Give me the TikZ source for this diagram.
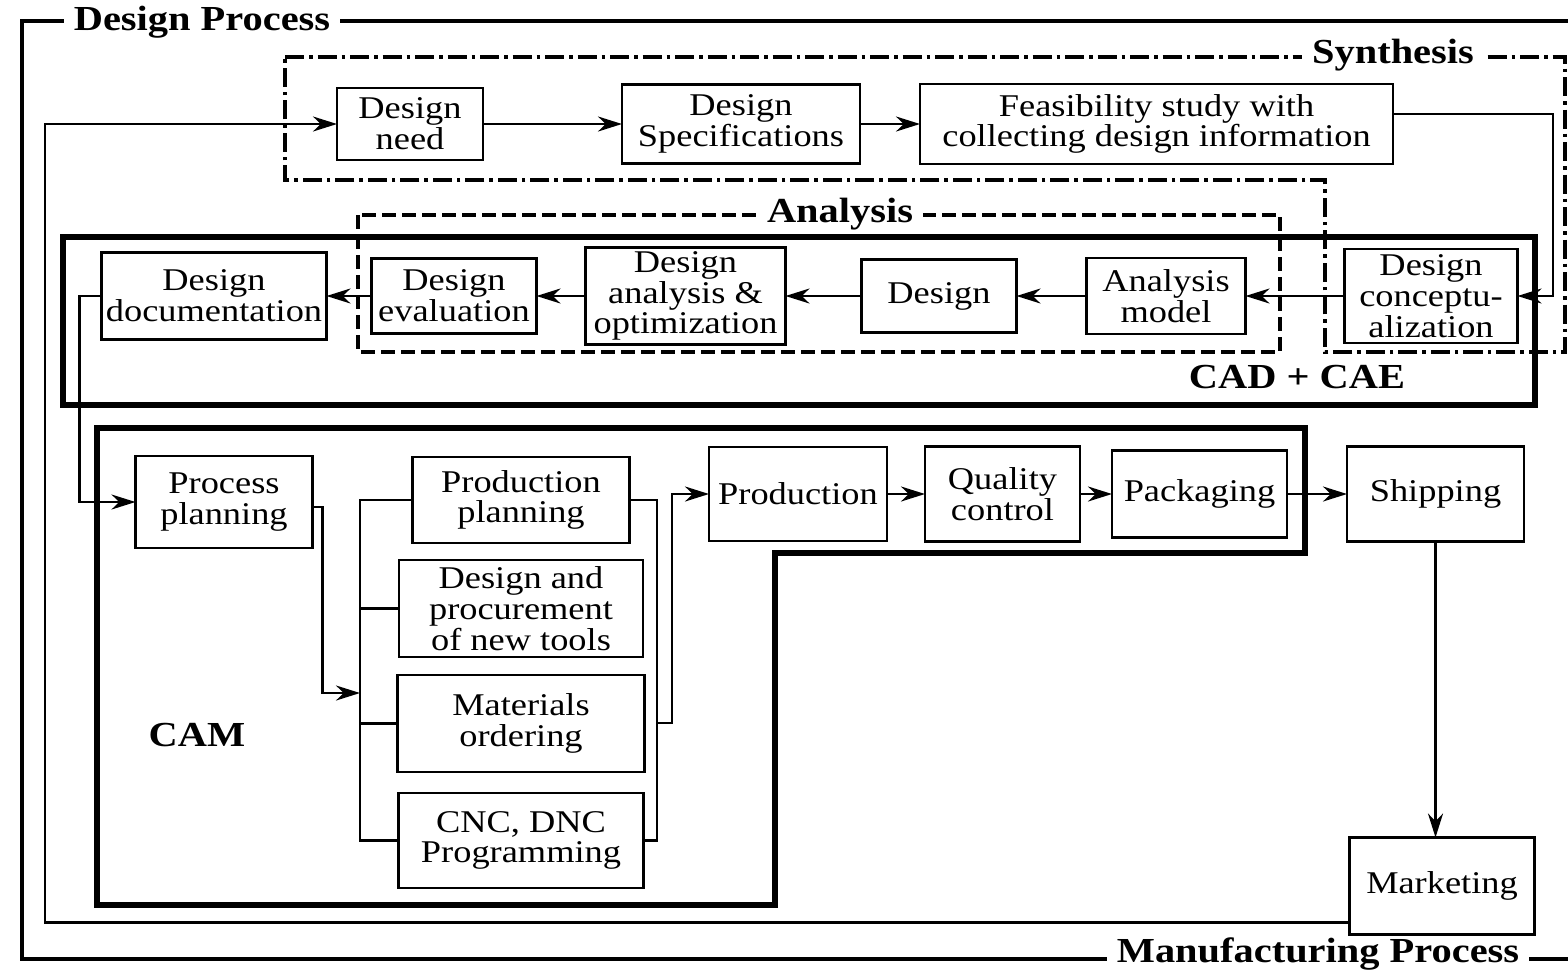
\documentclass[tikz,border=0pt]{standalone}
\usepackage{fontspec}
\setmainfont{Liberation Serif}[FakeStretch=1.15]
\usetikzlibrary{arrows.meta,positioning}

\begin{document}
\begin{tikzpicture}[x=0.2mm,y=-0.2mm,
		every node/.style={font=\fontsize{18}{17.5}\selectfont},
		blk/.style 2 args={draw, fill=white, line width=1.4pt, align=center, inner sep=1pt, outer sep=0pt,
			minimum width=#1*0.2mm, minimum height=#2*0.2mm},
		tag/.style={font=\fontsize{20}{22}\selectfont\bfseries},
		lbl/.style={tag, fill=white, inner xsep=2mm, inner ysep=0pt},
		arr/.style={-{Stealth[length=4.8mm,width=3mm]}, line width=1.5pt},
		link/.style={line width=1.5pt},
		synth/.style={line width=2pt, dash pattern=on 3.8mm off 1mm on 0.7mm off 1mm},
		anl/.style={line width=2pt, dash pattern=on 2.8mm off 1.2mm},
		heavy/.style={line width=3pt}]
	\useasboundingbox (0,0) rectangle (1568,972);

	% frames
	\draw[line width=1.9pt] (1568,21) -- (22,21) -- (22,959) -- (1568,959);
	\draw[synth] (285,57) -- (1565,57) -- (1565,352) -- (1325,352) -- (1325,180) -- (285,180) -- cycle;
	\draw[anl] (358,215) rectangle (1280,352);
	\draw[heavy] (63,237) rectangle (1535,405);
	\draw[heavy] (97,428) -- (1305,428) -- (1305,553) -- (775,553) -- (775,905) -- (97,905) -- cycle;
	\node[lbl] (dproc) at (202,22) {Design Process};
	\node[lbl] (mproc) at (1318,954) {Manufacturing Process};
	\node[lbl] (synlbl) at (1393,55) {Synthesis};
	\node[lbl] (analbl) at (840,214) {Analysis};
	\node[tag] (cadlbl) at (1297,377) {CAD + CAE};
	\node[tag] (camlbl) at (197,735) {CAM};

	% synthesis row
	\node[blk={146}{72}] (dneed) at (410,124) {Design\\need};
	\node[blk={238}{79}, right=27.8mm of dneed] (dspec) {Design\\Specifications};
	\node[blk={473}{80}, right=12mm of dspec] (feas) {Feasibility study with\\collecting design information};

	% CAD row
	\node[blk={173}{94}] (concept) at (1431,296) {Design\\conceptu-\\alization};
	\node[blk={159}{76}, left=19.8mm of concept] (amodel) {Analysis\\model};
	\node[blk={155}{73}, left=14mm of amodel] (design) {Design};
	\node[blk={200}{97}, left=15.2mm of design] (anopt) {Design\\analysis \&\\optimization};
	\node[blk={165}{75}, left=9.8mm of anopt] (deval) {Design\\evaluation};
	\node[blk={225}{87}, left=9mm of deval] (ddoc) {Design\\documentation};

	% CAM
	\node[blk={177}{92}] (pplan) at (224,502) {Process\\planning};
	\node[blk={217}{86}] (pprod) at (521,500) {Production\\planning};
	\node[blk={244}{97}, below=3.4mm of pprod] (tools) {Design and\\procurement\\of new tools};
	\node[blk={247}{97}, below=3.6mm of tools] (mat) {Materials\\ordering};
	\node[blk={245}{95}, below=4.2mm of mat] (cnc) {CNC, DNC\\Programming};
	\node[blk={178}{94}] (prod) at (798,494) {Production};
	\node[blk={155}{95}, right=7.6mm of prod] (qc) {Quality\\control};
	\node[blk={175}{87}, right=6.4mm of qc] (pack) {Packaging};
	\node[blk={177}{95}, right=12mm of pack] (ship) {Shipping};
	\node[blk={185}{97}] (mkt) at (1442,886) {Marketing};

	\coordinate (busin) at (360,693);
	\coordinate (busl) at (360,500);
	\coordinate (busr) at (657,500);
	\coordinate (merge) at (657,723);
	\coordinate (fbturn) at (45,124);

	% connectors
	\draw[arr] (dneed) -- (dspec);
	\draw[arr] (dspec) -- (feas);
	\draw[arr] ([yshift=2mm]feas.east) -- ++(160,0) |- (concept.east);
	\draw[arr] (concept) -- (amodel);
	\draw[arr] (amodel) -- (design);
	\draw[arr] (design) -- (anopt);
	\draw[arr] (anopt) -- (deval);
	\draw[arr] (deval) -- (ddoc);
	\draw[arr] (ddoc.west) -- ++(-22,0) |- (pplan.west);
	\draw[arr] ([yshift=-1mm]pplan.east) -- ++(10,0) |- (busin);
	\draw[link] (pprod.west) -- (pprod.west -| busl) |- (cnc.west);
	\draw[link] (tools.west) -- (tools.west -| busl);
	\draw[link] (mat.west) -- (mat.west -| busl);
	\draw[link] (pprod.east) -- (pprod.east -| busr) |- (cnc.east);
	\draw[arr] (merge) -- ++(15,0) |- (prod.west);
	\draw[arr] (prod) -- (qc);
	\draw[arr] (qc) -- (pack);
	\draw[arr] (pack) -- (ship);
	\draw[arr] (ship.south) -- (ship.south |- mkt.north);
	\draw[arr] ([yshift=2.4mm]mkt.south west) -| (fbturn) -- (dneed.west);
\end{tikzpicture}
\end{document}
